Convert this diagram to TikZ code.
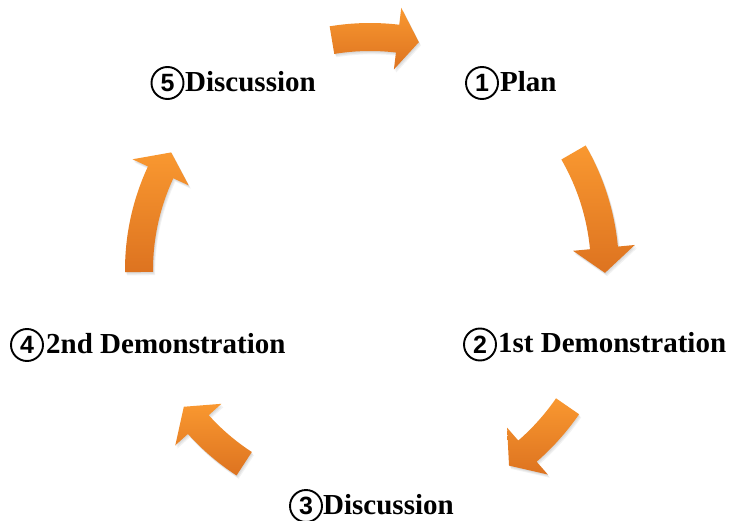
\documentclass[tikz,border=0pt]{standalone}
\usepackage{fontspec}
\setmainfont{Liberation Serif}
\newfontfamily\digitfont{Liberation Sans}
\definecolor{arrowtop}{RGB}{249,152,48}
\definecolor{arrowbottom}{RGB}{221,115,32}

% Curved block arrow on a circle around the cycle centre.
% #1 tail angle, #2 angle of the head base, #3 tip angle, #4 mid radius
\newcommand\arrowoutline[4]{%
  (#1:\ro) arc[start angle=#1, end angle=#2, radius=\ro]
  -- (#2:\ho) -- (#3:#4) -- (#2:\hi)
  -- (#2:\ri) arc[start angle=#2, end angle=#1, radius=\ri] -- cycle}
\newcommand\cyclearrow[4]{%
  \pgfmathsetmacro\ro{#4+14}\pgfmathsetmacro\ri{#4-14}%
  \pgfmathsetmacro\ho{#4+31}\pgfmathsetmacro\hi{#4-31}%
  \begin{scope}[shift={(370,250)}]
    \foreach \s in {1,2,3}{%
      \fill[arrowshadow, shift={(0.7*\s,-1.1*\s)}] \arrowoutline{#1}{#2}{#3}{#4};}
    \path[arrowbody] \arrowoutline{#1}{#2}{#3}{#4};
  \end{scope}}

\begin{document}
\begin{tikzpicture}[x=1pt, y=1pt,
  arrowbody/.style={top color=arrowtop, bottom color=arrowbottom, draw=none},
  arrowshadow/.style={fill=black, fill opacity=0.05, draw=none},
  stepnum/.style={circle, draw=black, line width=1.9pt, minimum size=32pt,
    inner sep=0pt, font=\digitfont\fontsize{25}{28}\selectfont\bfseries},
  steptext/.style={anchor=base west, inner sep=0pt,
    font=\fontsize{29}{34}\selectfont\bfseries}]
  \useasboundingbox[fill=white] (0,0) rectangle (730,520);

  % cycle arrows
  \cyclearrow{99.4}{83.2}{77.9}{233}
  \cyclearrow{30}{5.4}{-0.7}{235}
  \cyclearrow{-34.6}{-49}{-54.6}{240}
  \cyclearrow{237}{222}{216.3}{231}
  \cyclearrow{180.5}{155}{149.4}{231}

  % step labels
  \node[stepnum] (n1) at (482,437) {1};
  \node[steptext] (t1) at (500,428) {Plan};
  \node[stepnum] (n2) at (480,175.5) {2};
  \node[steptext] (t2) at (498,168) {1st Demonstration};
  \node[stepnum] (n3) at (306,14) {3};
  \node[steptext] (t3) at (323,6) {Discussion};
  \node[stepnum] (n4) at (27,175) {4};
  \node[steptext] (t4) at (46,167) {2nd Demonstration};
  \node[stepnum] (n5) at (167.5,437) {5};
  \node[steptext] (t5) at (185,428) {Discussion};
\end{tikzpicture}
\end{document}
